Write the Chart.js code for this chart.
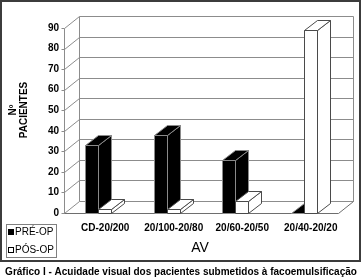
<!DOCTYPE html>
<html>
<head>
<meta charset="utf-8">
<script src="https://cdn.jsdelivr.net/npm/chart.js@4.4.1/dist/chart.umd.min.js"></script>
<style>
    html, body { margin: 0; padding: 0; background: #fff; }
    canvas { display: block; }
</style>
</head>
<body>
<canvas id="chart" width="362" height="280"></canvas>
<script>
// data
const categories = ['CD-20/200', '20/100-20/80', '20/60-20/50', '20/40-20/20'];
const preOp = [33, 38, 26, 0];
const posOp = [2, 2, 6, 89];
const seriesNames = ['PRÉ-OP', 'PÓS-OP'];
const yTicks = [0, 10, 20, 30, 40, 50, 60, 70, 80, 90];

const FONT = "'Liberation Sans', Arial, sans-serif";
const WALL = { dx: 15, dy: -12 };   // depth of the walls / floor
const BAR = { dx: 13, dy: -10 };    // depth of each column
const GRID = '#8c8c8c';

function line(ctx, x1, y1, x2, y2) {
    ctx.beginPath();
    ctx.moveTo(x1, y1);
    ctx.lineTo(x2, y2);
    ctx.stroke();
}

function poly(ctx, pts, fill, stroke) {
    ctx.beginPath();
    ctx.moveTo(pts[0][0], pts[0][1]);
    for (let i = 1; i < pts.length; i++) ctx.lineTo(pts[i][0], pts[i][1]);
    ctx.closePath();
    ctx.fillStyle = fill;
    ctx.fill();
    ctx.strokeStyle = stroke;
    ctx.stroke();
}

function drawColumn(ctx, el, fill, stroke) {
    const p = el.getProps(['x', 'y', 'base', 'width'], true);
    const x0 = Math.round(p.x - p.width / 2) + 0.5;
    const x1 = Math.round(p.x + p.width / 2) + 0.5;
    const top = Math.round(p.y) + 0.5;
    const bot = Math.round(p.base) + 0.5;
    // side face
    poly(ctx, [[x1, top], [x1 + BAR.dx, top + BAR.dy], [x1 + BAR.dx, bot + BAR.dy], [x1, bot]], fill, stroke);
    // top face
    poly(ctx, [[x0, top], [x0 + BAR.dx, top + BAR.dy], [x1 + BAR.dx, top + BAR.dy], [x1, top]], fill, stroke);
    // front face
    poly(ctx, [[x0, top], [x1, top], [x1, bot], [x0, bot]], fill, stroke);
}

const box3d = {
    id: 'box3d',
    beforeDatasetsDraw(chart) {
        const { ctx, chartArea: a, scales: { y } } = chart;
        ctx.save();
        ctx.lineWidth = 1;
        ctx.strokeStyle = GRID;
        const L = Math.round(a.left) + 0.5;
        const R = Math.round(a.right) + 0.5;
        const yTop = Math.round(y.getPixelForValue(yTicks[yTicks.length - 1])) + 0.5;
        const yBot = Math.round(y.getPixelForValue(0)) + 0.5;

        // side wall and back wall
        yTicks.forEach(v => {
            const py = Math.round(y.getPixelForValue(v)) + 0.5;
            line(ctx, L - 3, py, L, py);
            line(ctx, L, py, L + WALL.dx, py + WALL.dy);
            line(ctx, L + WALL.dx, py + WALL.dy, R + WALL.dx, py + WALL.dy);
        });
        line(ctx, L, yTop, L, yBot);
        line(ctx, L + WALL.dx, yTop + WALL.dy, L + WALL.dx, yBot + WALL.dy);
        line(ctx, R + WALL.dx, yTop + WALL.dy, R + WALL.dx, yBot + WALL.dy);

        // floor
        ctx.strokeStyle = '#6e6e6e';
        line(ctx, L, yBot, R, yBot);
        line(ctx, R, yBot, R + WALL.dx, yBot + WALL.dy);

        // columns, category by category so the nearer faces overlap correctly
        const metaPre = chart.getDatasetMeta(0);
        const metaPos = chart.getDatasetMeta(1);
        categories.forEach((c, i) => {
            drawColumn(ctx, metaPre.data[i], '#000', '#8a8a8a');
            drawColumn(ctx, metaPos.data[i], '#fff', '#4a4a4a');
        });
        ctx.restore();
        return false;
    },
    afterDraw(chart) {
        const { ctx } = chart;
        ctx.save();

        // outer frame
        ctx.strokeStyle = '#3c3c3c';
        ctx.lineWidth = 2;
        ctx.strokeRect(1, 1, 359, 260);

        // y title
        ctx.fillStyle = '#000';
        ctx.font = 'bold 10px ' + FONT;
        ctx.textAlign = 'center';
        ctx.textBaseline = 'middle';
        ctx.save();
        ctx.translate(13, 110);
        ctx.rotate(-Math.PI / 2);
        ctx.fillText('Nº', 0, 0);
        ctx.restore();
        ctx.save();
        ctx.translate(24, 110);
        ctx.rotate(-Math.PI / 2);
        ctx.fillText('PACIENTES', 0, 0);
        ctx.restore();

        // x title
        ctx.font = '14px ' + FONT;
        ctx.fillText('AV', 200, 248);

        // legend
        ctx.lineWidth = 1;
        ctx.strokeStyle = '#808080';
        ctx.fillStyle = '#fff';
        ctx.fillRect(6.5, 224.5, 50, 33);
        ctx.strokeRect(6.5, 224.5, 50, 33);
        ctx.fillStyle = '#000';
        ctx.fillRect(8, 229, 6, 6);
        ctx.strokeStyle = '#000';
        ctx.strokeRect(8.5, 247.5, 5, 5);
        ctx.font = '10px ' + FONT;
        ctx.textAlign = 'left';
        ctx.fillText(seriesNames[0], 15, 232.5);
        ctx.fillText(seriesNames[1], 15, 250.5);

        // caption
        ctx.font = 'bold 10px ' + FONT;
        ctx.textAlign = 'center';
        ctx.fillText('Gráfico I - Acuidade visual dos pacientes submetidos à facoemulsificação', 181, 272);
        ctx.restore();
    }
};

new Chart(document.getElementById('chart'), {
    type: 'bar',
    data: {
        labels: categories,
        datasets: [
            { label: seriesNames[0], data: preOp, backgroundColor: '#000' },
            { label: seriesNames[1], data: posOp, backgroundColor: '#fff' }
        ]
    },
    options: {
        responsive: false,
        animation: false,
        devicePixelRatio: 1,
        layout: { padding: { left: 0, right: 24, top: 28, bottom: 0 } },
        datasets: { bar: { categoryPercentage: 0.38, barPercentage: 1 } },
        plugins: {
            legend: { display: false },
            tooltip: { enabled: false }
        },
        scales: {
            x: {
                grid: { display: false, drawTicks: false },
                border: { display: false },
                ticks: {
                    color: '#000',
                    font: { family: FONT, size: 10, weight: 'bold' },
                    padding: 9,
                    labelOffset: 7,
                    maxRotation: 0,
                    autoSkip: false
                },
                afterFit(scale) { scale.height = 67; }
            },
            y: {
                min: 0,
                max: 90,
                grid: { display: false, drawTicks: false },
                border: { display: false },
                ticks: {
                    color: '#000',
                    font: { family: FONT, size: 10, weight: 'bold' },
                    padding: 5
                },
                afterBuildTicks(scale) { scale.ticks = yTicks.map(v => ({ value: v })); },
                afterFit(scale) { scale.width = 64; }
            }
        }
    },
    plugins: [box3d]
});
</script>
</body>
</html>
